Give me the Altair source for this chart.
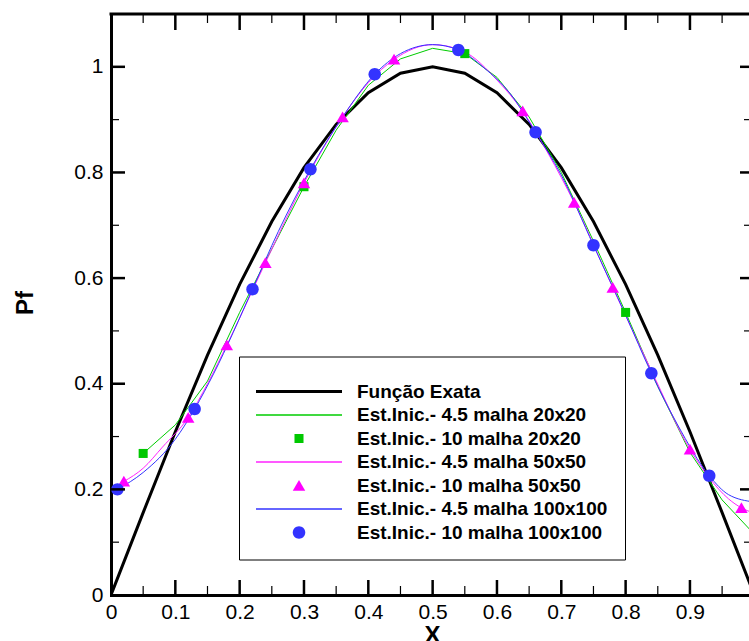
import altair as alt
import pandas as pd

# ---------------- data ----------------
series_names = [
    "Função Exata",
    "Est.Inic.- 4.5 malha 20x20",
    "Est.Inic.- 10 malha 20x20",
    "Est.Inic.- 4.5 malha 50x50",
    "Est.Inic.- 10 malha 50x50",
    "Est.Inic.- 4.5 malha 100x100",
    "Est.Inic.- 10 malha 100x100",
]
series_colors = ["#000000", "#00cc00", "#00c800", "#ff22ff", "#ff00ff", "#3333ff", "#3333ff"]

exact_x = [0.0, 0.05, 0.1, 0.15, 0.2, 0.25, 0.3, 0.35, 0.4, 0.45, 0.5,
           0.55, 0.6, 0.65, 0.7, 0.75, 0.8, 0.85, 0.9, 0.95, 1.0]
exact_y = [0.0, 0.156, 0.309, 0.454, 0.588, 0.707, 0.809, 0.891, 0.951, 0.988, 1.0,
           0.988, 0.951, 0.891, 0.809, 0.707, 0.588, 0.454, 0.309, 0.156, 0.0]

g20_x = [0.05, 0.1, 0.15, 0.2, 0.25, 0.3, 0.35, 0.4, 0.45, 0.5,
         0.55, 0.6, 0.65, 0.7, 0.75, 0.8, 0.85, 0.9, 0.95, 1.0]
g20_y = [0.268, 0.322, 0.405, 0.535, 0.655, 0.773, 0.880, 0.965, 1.015, 1.035,
         1.025, 0.980, 0.905, 0.800, 0.670, 0.535, 0.395, 0.270, 0.180, 0.115]

m50_x = [0.02, 0.05, 0.08, 0.12, 0.15, 0.18, 0.24, 0.30, 0.36, 0.40, 0.44, 0.50,
         0.55, 0.60, 0.64, 0.68, 0.72, 0.78, 0.84, 0.90, 0.93, 0.96, 0.98, 1.0]
m50_y = [0.215, 0.240, 0.280, 0.336, 0.400, 0.473, 0.629, 0.780, 0.905, 0.970, 1.014, 1.042,
         1.028, 0.975, 0.916, 0.835, 0.743, 0.582, 0.425, 0.276, 0.222, 0.182, 0.165, 0.155]

b100_x = [0.01, 0.05, 0.10, 0.13, 0.16, 0.22, 0.26, 0.31, 0.36, 0.41, 0.45, 0.50,
          0.54, 0.58, 0.62, 0.66, 0.70, 0.75, 0.80, 0.84, 0.88, 0.93, 0.96, 1.0]
b100_y = [0.200, 0.232, 0.295, 0.352, 0.420, 0.579, 0.688, 0.806, 0.905, 0.986, 1.025, 1.042,
          1.032, 0.998, 0.950, 0.876, 0.795, 0.662, 0.530, 0.420, 0.324, 0.226, 0.190, 0.176]

sq_x = [0.05, 0.30, 0.55, 0.80]
sq_y = [0.268, 0.773, 1.025, 0.535]

tri_x = [0.02, 0.12, 0.18, 0.24, 0.30, 0.36, 0.44, 0.64, 0.72, 0.78, 0.90, 0.98]
tri_y = [0.215, 0.336, 0.473, 0.629, 0.780, 0.905, 1.014, 0.916, 0.743, 0.582, 0.276, 0.165]

circ_x = [0.01, 0.13, 0.22, 0.31, 0.41, 0.54, 0.66, 0.75, 0.84, 0.93]
circ_y = [0.200, 0.352, 0.579, 0.806, 0.986, 1.032, 0.876, 0.662, 0.420, 0.226]

x_labels = [0, 0.1, 0.2, 0.3, 0.4, 0.5, 0.6, 0.7, 0.8, 0.9]
y_labels = [0, 0.2, 0.4, 0.6, 0.8, 1.0]
x_major = [0.1, 0.2, 0.3, 0.4, 0.5, 0.6, 0.7, 0.8, 0.9]
x_minor = [0.05, 0.15, 0.25, 0.35, 0.45, 0.55, 0.65, 0.75, 0.85, 0.95]
y_major = [0.2, 0.4, 0.6, 0.8, 1.0]
y_minor = [0.1, 0.3, 0.5, 0.7, 0.9]

# ---------------- styles ----------------
W, H = 638, 581
X_MAX = 0.9918
Y_MAX = 1.1
FONT = "Liberation Sans"
SYM = 7396  # symbol box: sqrt(7396) = 86 px, unit path coords span [-1, 1]

LINE_THICK = "M-1,-0.035H1V0.035H-1Z"
LINE_THIN = "M-1,-0.016H1V0.016H-1Z"
SQUARE = "M-0.105,-0.105H0.105V0.105H-0.105Z"
TRIANGLE = "M0,-0.13L0.145,0.12L-0.145,0.12Z"
CIRCLE = "M-0.145,0A0.145,0.145 0 1,0 0.145,0A0.145,0.145 0 1,0 -0.145,0Z"
series_shapes = [LINE_THICK, LINE_THIN, SQUARE, LINE_THIN, TRIANGLE, LINE_THIN, CIRCLE]


def frame(xs, ys, name):
    return pd.DataFrame({"x": xs, "y": ys, "series": name})


color_scale = alt.Scale(domain=series_names, range=series_colors)
shape_scale = alt.Scale(domain=series_names, range=series_shapes)

legend = alt.Legend(
    title=" ",
    titleFontSize=4,
    titlePadding=5,
    orient="none",
    legendX=128,
    legendY=342.5,
    labelFont=FONT,
    labelFontWeight="bold",
    labelFontSize=19,
    labelColor="black",
    labelOffset=15,
    labelLimit=500,
    clipHeight=18,
    rowPadding=4.5,
    padding=17,
    strokeColor="black",
    fillColor="white",
    symbolSize=SYM,
    symbolStrokeWidth=0,
    symbolOpacity=1,
)

x_axis = alt.Axis(
    values=x_labels, format="~g", labelFlush=False, labelOverlap=False, ticks=False, grid=False,
    domainWidth=3, domainColor="black", domainCap="square",
    labelFont=FONT, labelFontSize=21, labelColor="black", labelPadding=6,
    title="X", titleFont=FONT, titleFontSize=24, titleFontWeight="bold", titleColor="black",
    titleX=321, titleY=40, titleBaseline="middle", titleAlign="center",
)
y_axis = alt.Axis(
    values=y_labels, format="~g", labelFlush=False, labelOverlap=False, ticks=False, grid=False,
    domainWidth=3, domainColor="black", domainCap="square",
    labelFont=FONT, labelFontSize=21, labelColor="black", labelPadding=8,
    title="Pf", titleFont=FONT, titleFontSize=24, titleFontWeight="bold", titleColor="black",
    titleX=-85.5, titleY=288.5, titleBaseline="middle", titleAlign="center", titleAngle=270,
)

X = alt.X("x:Q", scale=alt.Scale(domain=[0, X_MAX], nice=False, zero=False), axis=x_axis)
Y = alt.Y("y:Q", scale=alt.Scale(domain=[0, Y_MAX], nice=False, zero=False), axis=y_axis)


def line_layer(df, idx, width, interp):
    return alt.Chart(df).mark_line(
        clip=True, strokeWidth=width, interpolate=interp, color=series_colors[idx]
    ).encode(x=X, y=Y)


def point_layer(df):
    return alt.Chart(df).mark_point(filled=True, opacity=1, size=SYM, strokeWidth=0, clip=True).encode(
        x=X, y=Y,
        color=alt.Color("series:N", scale=color_scale, legend=legend),
        shape=alt.Shape("series:N", scale=shape_scale, legend=legend))


lines = [
    line_layer(frame(exact_x, exact_y, series_names[0]), 0, 3, "linear"),
    line_layer(frame(g20_x, g20_y, series_names[1]), 1, 1, "linear"),
    line_layer(frame(m50_x, m50_y, series_names[3]), 3, 1, "monotone"),
    line_layer(frame(b100_x, b100_y, series_names[5]), 5, 1, "monotone"),
]
points = [
    point_layer(frame(sq_x, sq_y, series_names[2])),
    point_layer(frame(tri_x, tri_y, series_names[4])),
    point_layer(frame(circ_x, circ_y, series_names[6])),
]

xmaj = pd.DataFrame({"x": x_major})
xmin = pd.DataFrame({"x": x_minor})
ymaj = pd.DataFrame({"y": y_major})
ymin = pd.DataFrame({"y": y_minor})

ticks = [
    alt.Chart(xmaj).mark_rule(color="black", strokeWidth=2.5).encode(x=X, y=alt.value(H), y2=alt.value(H - 15)),
    alt.Chart(xmin).mark_rule(color="black", strokeWidth=1.2).encode(x=X, y=alt.value(H), y2=alt.value(H - 9)),
    alt.Chart(xmaj).mark_rule(color="black", strokeWidth=2.5).encode(x=X, y=alt.value(0), y2=alt.value(16)),
    alt.Chart(xmin).mark_rule(color="black", strokeWidth=1.2).encode(x=X, y=alt.value(0), y2=alt.value(9)),
    alt.Chart(ymaj).mark_rule(color="black", strokeWidth=2.5).encode(y=Y, x=alt.value(0), x2=alt.value(14)),
    alt.Chart(ymin).mark_rule(color="black", strokeWidth=1.2).encode(y=Y, x=alt.value(0), x2=alt.value(8)),
    alt.Chart(ymaj).mark_rule(color="black", strokeWidth=2.5).encode(y=Y, x=alt.value(W - 9), x2=alt.value(W)),
    alt.Chart(ymin).mark_rule(color="black", strokeWidth=1.2).encode(y=Y, x=alt.value(W - 5), x2=alt.value(W)),
    alt.Chart(pd.DataFrame({"k": [0]})).mark_rule(color="black", strokeWidth=3, strokeCap="square").encode(
        x=alt.value(0), x2=alt.value(W), y=alt.value(0)),
]

chart = alt.layer(*lines, *points, *ticks).properties(
    width=W,
    height=H,
    padding={"left": 111, "top": 14, "right": 0, "bottom": 641 - 14 - H},
    autosize=alt.AutoSizeParams(type="none"),
).configure_view(stroke=None).configure(font=FONT, background="white")

chart.save("out.html", embed_options={"renderer": "svg", "actions": False})
